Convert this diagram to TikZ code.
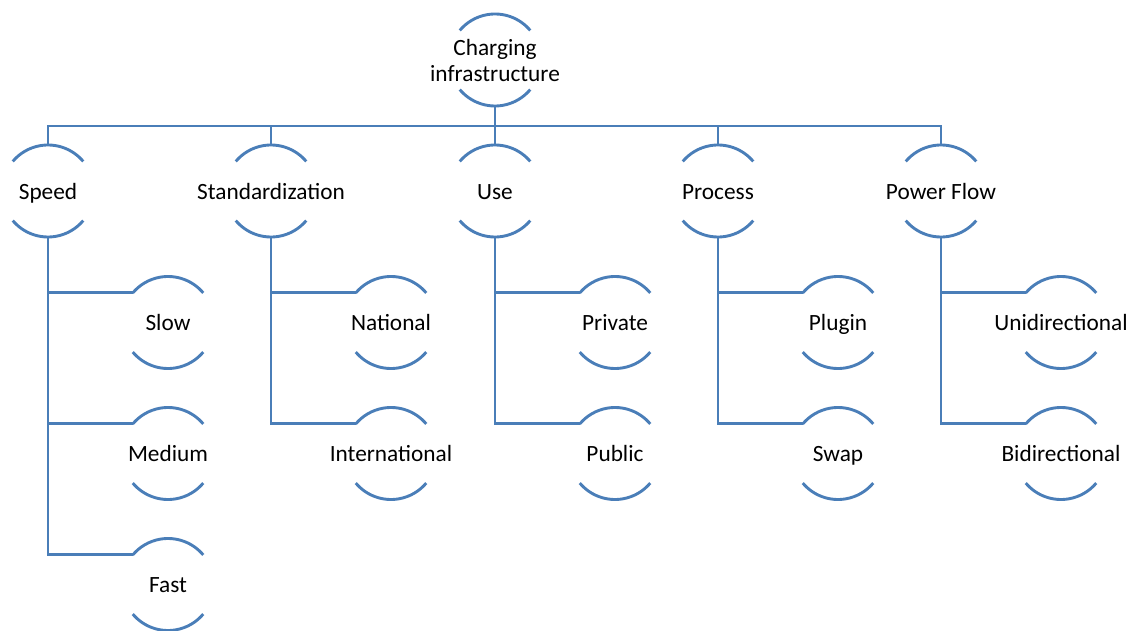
\documentclass[tikz,border=0pt]{standalone}
\usepackage{fontspec}
\setmainfont{Carlito}
\definecolor{treeblue}{RGB}{74,126,184}
\newcommand{\lbl}[1]{\raisebox{-3pt}[\height][\depth]{\makebox[0pt]{\begin{tabular}{@{}c@{}}#1\end{tabular}}}}
\tikzset{every picture/.style={line width=2.9pt}}
\tikzset{
  cat/.style={circle, minimum size=92pt, inner sep=0pt, outer sep=0pt, font=\fontsize{23.3}{26}\selectfont},
  link/.style={draw=treeblue}
}

\begin{document}
\begin{tikzpicture}[x=1pt,y=1pt]
\useasboundingbox (0,0) rectangle (1137,630);

\node[cat] (root) at (495,570) {\lbl{Charging\\infrastructure}};
\node[cat] (speed) at (48,439) {\lbl{Speed}};
\node[cat] (standard) at (271,439) {\lbl{Standardization}};
\node[cat] (use) at (495,439) {\lbl{Use}};
\node[cat] (process) at (718,439) {\lbl{Process}};
\node[cat] (powerflow) at (941,439) {\lbl{Power Flow}};

\node[cat] (slow) at (168,307.5) {\lbl{Slow}};
\node[cat] (medium) at (168,176.5) {\lbl{Medium}};
\node[cat] (fast) at (168,45.5) {\lbl{Fast}};
\node[cat] (national) at (391,307.5) {\lbl{National}};
\node[cat] (international) at (391,176.5) {\lbl{International}};
\node[cat] (private) at (615,307.5) {\lbl{Private}};
\node[cat] (public) at (615,176.5) {\lbl{Public}};
\node[cat] (plugin) at (838,307.5) {\lbl{Plugin}};
\node[cat] (swap) at (838,176.5) {\lbl{Swap}};
\node[cat] (unidir) at (1061,307.5) {\lbl{Unidirectional}};
\node[cat] (bidir) at (1061,176.5) {\lbl{Bidirectional}};

\coordinate (bar) at (495,504);

% arcs above and below every label
\foreach \n in {root,speed,standard,use,process,powerflow,slow,medium,fast,national,international,private,public,plugin,swap,unidir,bidir} {
  \draw[link] (\n.40) arc[start angle=40,end angle=140,radius=46];
  \draw[link] (\n.220) arc[start angle=220,end angle=320,radius=46];
}

\draw[link] (root.south) -- (bar);
\foreach \n in {speed,standard,use,process,powerflow}
  \draw[link] (bar) -| (\n.north);

\draw[link] (speed.south) |- (fast.140);
\draw[link] (speed.south) |- (slow.140);
\draw[link] (speed.south) |- (medium.140);
\draw[link] (standard.south) |- (international.140);
\draw[link] (standard.south) |- (national.140);
\draw[link] (use.south) |- (public.140);
\draw[link] (use.south) |- (private.140);
\draw[link] (process.south) |- (swap.140);
\draw[link] (process.south) |- (plugin.140);
\draw[link] (powerflow.south) |- (bidir.140);
\draw[link] (powerflow.south) |- (unidir.140);
\end{tikzpicture}
\end{document}
